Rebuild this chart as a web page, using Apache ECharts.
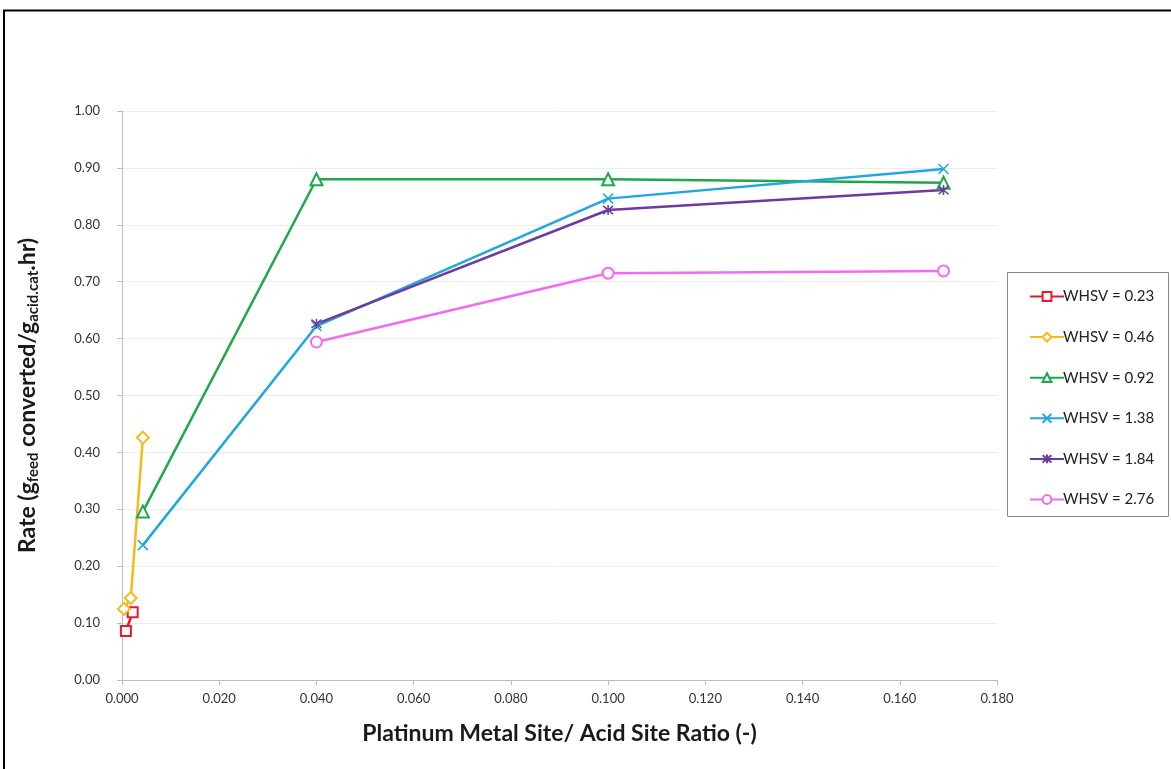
<!DOCTYPE html>
<html>
<head>
<meta charset="utf-8">
<script src="https://cdn.jsdelivr.net/npm/echarts@6/dist/echarts.min.js"></script>
<style>
  html, body { margin: 0; padding: 0; background: #fff; }
  #chart { width: 1171px; height: 769px; }
</style>
</head>
<body>
<div id="chart"></div>
<script>
// Reaction rate vs. Pt metal site / acid site ratio, one series per WHSV
const seriesNames = ['WHSV = 0.23', 'WHSV = 0.46', 'WHSV = 0.92', 'WHSV = 1.38', 'WHSV = 1.84', 'WHSV = 2.76'];

const whsv023 = [[0.0008, 0.086], [0.0022, 0.119]];
const whsv046 = [[0.0004, 0.125], [0.0018, 0.144], [0.0043, 0.426]];
const whsv092 = [[0.0043, 0.296], [0.040, 0.880], [0.100, 0.880], [0.169, 0.874]];
const whsv138 = [[0.0043, 0.237], [0.040, 0.622], [0.100, 0.846], [0.169, 0.898]];
const whsv184 = [[0.040, 0.626], [0.100, 0.826], [0.169, 0.861]];
const whsv276 = [[0.040, 0.594], [0.100, 0.715], [0.169, 0.719]];

const xTicks = { min: 0, max: 0.18, interval: 0.02 };
const yTicks = { min: 0, max: 1.0, interval: 0.1 };

const colors = ['#e8192c', '#f7b916', '#1fa84a', '#1fa8e0', '#6c3aa0', '#f46af0'];
const crossPath = 'path://M0,0L10,10M10,0L0,10';
const starPath = 'path://M0,0L10,10M10,0L0,10M5,-1L5,11';

const FONT = 'Lato, "Liberation Sans", sans-serif';

function makeSeries(name, data, color, symbol, size) {
  const custom = symbol.startsWith('path://');
  return {
    name: name,
    type: 'line',
    data: data,
    symbol: symbol,
    symbolSize: size,
    showAllSymbol: true,
    color: color,
    lineStyle: { color: color, width: 2.5 },
    itemStyle: custom
      ? { color: 'rgba(0,0,0,0)', borderColor: color, borderWidth: 1.5 }
      : { color: color, borderWidth: 1.3 },
    emphasis: { disabled: true },
    z: 3
  };
}

const chart = echarts.init(document.getElementById('chart'), null, { renderer: 'canvas' });

chart.setOption({
  backgroundColor: '#fff',
  animation: false,
  textStyle: { fontFamily: FONT },
  grid: { left: 122, right: 174, top: 111, bottom: 89, containLabel: false },
  xAxis: {
    type: 'value',
    min: xTicks.min, max: xTicks.max, interval: xTicks.interval,
    name: 'Platinum Metal Site/ Acid Site Ratio (-)',
    nameLocation: 'middle',
    nameGap: 42,
    nameTextStyle: { fontFamily: FONT, fontSize: 23, fontWeight: 'bold', color: '#1a1a1a' },
    axisLine: { show: true, lineStyle: { color: '#bdbdbd', width: 1 } },
    axisTick: { show: true, length: 5, lineStyle: { color: '#bdbdbd' } },
    axisLabel: { formatter: v => v.toFixed(3), fontSize: 13, color: '#333', margin: 12 },
    splitLine: { show: false }
  },
  yAxis: {
    type: 'value',
    min: yTicks.min, max: yTicks.max, interval: yTicks.interval,
    name: '{b|Rate (g}{s|feed}{b| converted/g}{s|acid.cat}{b|.hr)}',
    nameLocation: 'middle',
    nameGap: 81,
    nameRotate: 90,
    nameTextStyle: {
      rich: {
        b: { fontFamily: FONT, fontSize: 23, fontWeight: 'bold', color: '#1a1a1a' },
        s: { fontFamily: FONT, fontSize: 15, fontWeight: 'bold', color: '#1a1a1a', padding: [12, 0, 0, 0] }
      }
    },
    axisLine: { show: true, lineStyle: { color: '#bdbdbd', width: 1 } },
    axisTick: { show: true, length: 5, lineStyle: { color: '#bdbdbd' } },
    axisLabel: { formatter: v => v.toFixed(2), fontSize: 13, color: '#333', margin: 22 },
    splitLine: { show: true, lineStyle: { color: '#ececec', width: 1 } }
  },
  legend: {
    orient: 'vertical',
    left: 1024,
    top: 284,
    itemGap: 25.6,
    itemWidth: 34,
    itemHeight: 11,
    data: seriesNames,
    textStyle: { fontFamily: FONT, fontSize: 15, color: '#222', padding: [0, 0, 0, -6] },
    selectedMode: false
  },
  graphic: [
    { type: 'rect', shape: { x: 1007.5, y: 272.5, width: 161, height: 244 },
      style: { fill: 'none', stroke: '#8a8a8a', lineWidth: 1 }, z: 1 },
    { type: 'line', shape: { x1: 3, y1: 10.5, x2: 1171, y2: 10.5 },
      style: { stroke: '#000', lineWidth: 2 } },
    { type: 'line', shape: { x1: 4, y1: 10, x2: 4, y2: 769 },
      style: { stroke: '#000', lineWidth: 2 } }
  ],
  series: [
    makeSeries(seriesNames[0], whsv023, colors[0], 'emptyRect', 10),
    makeSeries(seriesNames[1], whsv046, colors[1], 'emptyDiamond', 12),
    makeSeries(seriesNames[2], whsv092, colors[2], 'emptyTriangle', 12),
    makeSeries(seriesNames[3], whsv138, colors[3], crossPath, 10),
    makeSeries(seriesNames[4], whsv184, colors[4], starPath, 10),
    makeSeries(seriesNames[5], whsv276, colors[5], 'emptyCircle', 11)
  ]
});
</script>
</body>
</html>
